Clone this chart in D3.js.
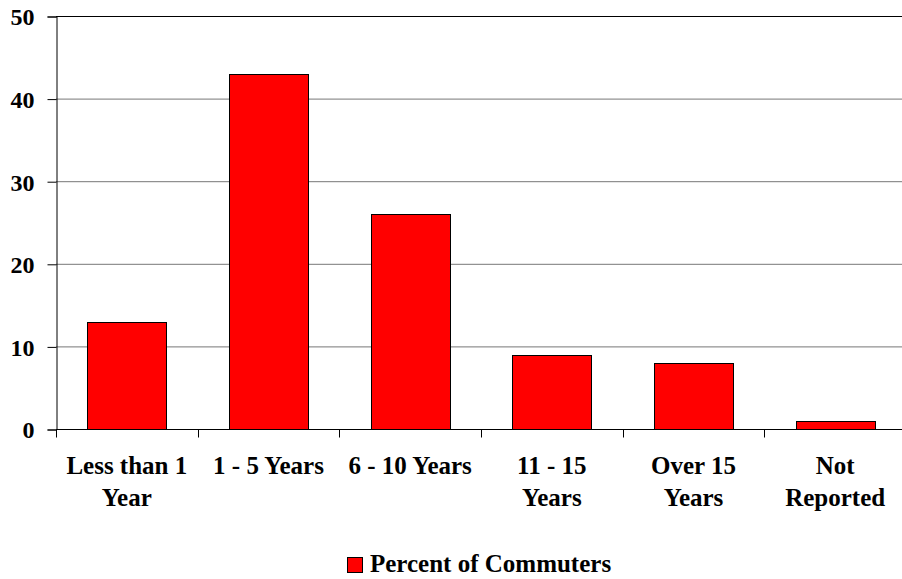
<!DOCTYPE html>
<html><head><meta charset="utf-8">
<script src="https://cdn.jsdelivr.net/npm/d3@7"></script>
<style>body{margin:0;background:#fff;overflow:hidden}svg{display:block}text{font-family:"Liberation Serif","Times New Roman",serif;font-weight:bold}</style>
</head><body><svg id="c" width="902" height="579"></svg>
<script>
const categories = [["Less than 1","Year"],["1 - 5 Years"],["6 - 10 Years"],["11 - 15","Years"],["Over 15","Years"],["Not","Reported"]];
const values = [13, 43, 26, 9, 8, 1];
const yTicks = [0, 10, 20, 30, 40, 50];
const seriesName = "Percent of Commuters";

const svg = d3.select("#c");
const L = 56, R = 906, T = 16, B = 429;
const x = d3.scaleBand().domain(d3.range(categories.length)).range([L, R]).paddingInner(0.4425).paddingOuter(0.22125);
const y = d3.scaleLinear().domain([0, 50]).range([B, T]);

// gridlines
svg.append("g").selectAll("line").data(yTicks.filter(d => d > 0)).join("line")
  .attr("x1", L).attr("x2", R).attr("y1", d => y(d) + 0.5).attr("y2", d => y(d) + 0.5)
  .attr("stroke", d => d === 50 ? "#000" : "#777").attr("stroke-width", 1);

// bars
svg.append("g").selectAll("rect").data(values).join("rect")
  .attr("x", (d, i) => Math.round(x(i)) + 0.5).attr("width", Math.round(x.bandwidth()))
  .attr("y", d => Math.round(y(d)) + 0.5).attr("height", d => B - Math.round(y(d)))
  .attr("fill", "#ff0000").attr("stroke", "#000").attr("stroke-width", 1);

// y axis
const ya = svg.append("g").attr("transform", `translate(${L + 0.5},0.5)`)
  .call(d3.axisLeft(y).tickValues(yTicks).tickSize(9).tickPadding(13));
ya.select(".domain").attr("stroke", "#000");
ya.selectAll("text").style("font-size", "24px").attr("fill", "#000").attr("dy", "0.35em");

// x axis
const xb = svg.append("g").attr("transform", `translate(0,${B + 0.5})`);
xb.append("line").attr("x1", L).attr("x2", R).attr("stroke", "#000");
const step = x.step();
xb.selectAll("line.t").data(d3.range(categories.length + 1)).join("line").attr("class", "t")
  .attr("x1", i => Math.round(L + i * step) + 0.5).attr("x2", i => Math.round(L + i * step) + 0.5)
  .attr("y1", 0).attr("y2", 8).attr("stroke", "#000");

const lbl = svg.append("g");
categories.forEach((c, i) => {
  const cx = x(i) + x.bandwidth() / 2;
  const t = lbl.append("text").attr("x", cx).attr("y", 474)
    .attr("text-anchor", "middle").style("font-size", "25px");
  c.forEach((s, j) => t.append("tspan").attr("x", cx).attr("dy", j ? 32 : 0).text(s));
});

// legend
const lg = svg.append("g");
lg.append("rect").attr("x", 347.5).attr("y", 557.5).attr("width", 15).attr("height", 15).attr("fill", "#ff0000").attr("stroke", "#000");
lg.append("text").attr("x", 370).attr("y", 572).style("font-size", "25px").text(seriesName);
</script></body></html>
